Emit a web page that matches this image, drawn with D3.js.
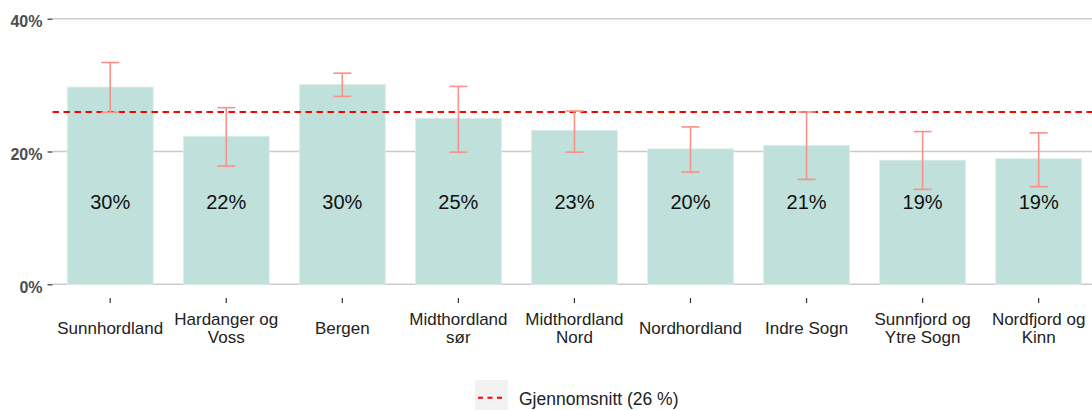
<!DOCTYPE html>
<html>
<head>
<meta charset="utf-8">
<script src="https://cdn.jsdelivr.net/npm/d3@7"></script>
<style>
  html, body { margin: 0; padding: 0; background: #fff; }
  svg { display: block; font-family: "Liberation Sans", Arial, sans-serif; }
</style>
</head>
<body>
<svg id="chart" width="1092" height="410"></svg>
<script>
// ---- data ----
const categories = ["Sunnhordland", "Hardanger og\nVoss", "Bergen", "Midthordland\nsør", "Midthordland\nNord", "Nordhordland", "Indre Sogn", "Sunnfjord og\nYtre Sogn", "Nordfjord og\nKinn"];
const values = [29.7, 22.3, 30.1, 25.0, 23.2, 20.4, 20.9, 18.7, 18.9];
const labels = ["30%", "22%", "30%", "25%", "23%", "20%", "21%", "19%", "19%"];
const errLow = [25.9, 17.8, 28.3, 19.9, 19.9, 16.9, 15.8, 14.3, 14.7];
const errHigh = [33.4, 26.6, 31.8, 29.8, 26.1, 23.7, 25.95, 23.0, 22.8];
const average = 25.95;
const legendLabel = "Gjennomsnitt (26 %)";
const yTicks = [0, 20, 40];

// ---- layout ----
const svg = d3.select("#chart");
const step = 116.06;
const firstCenter = 110.2;
const x = d3.scaleBand()
  .domain(categories)
  .range([firstCenter - step / 2, firstCenter - step / 2 + step * categories.length])
  .paddingInner(0.26).paddingOuter(0.13);
const y = d3.scaleLinear().domain([0, 40]).range([284.3, 18.7]);
const panelLeft = 52.5, panelRight = 1092;

// gridlines
svg.append("g").selectAll("line").data(yTicks).join("line")
  .attr("x1", panelLeft).attr("x2", panelRight)
  .attr("y1", d => y(d)).attr("y2", d => y(d))
  .attr("stroke", "#cbcbcb").attr("stroke-width", 1.5);

// y axis
const yAxis = d3.axisLeft(y).tickValues(yTicks).tickSize(5).tickPadding(5).tickFormat(d => d + "%");
const gy = svg.append("g").attr("transform", `translate(${panelLeft},0)`).call(yAxis);
gy.select(".domain").remove();
gy.selectAll(".tick line").attr("stroke", "#333").attr("stroke-width", 1.2);
gy.selectAll(".tick text")
  .attr("fill", "#4d4d4d").attr("font-size", "16px").attr("font-weight", "bold")
  .attr("font-family", "'Liberation Sans', Arial, sans-serif")
  .attr("dy", "0.5em");

// bars
const data = categories.map((c, i) => ({ c, v: values[i], lab: labels[i], lo: errLow[i], hi: errHigh[i] }));
svg.append("g").selectAll("rect").data(data).join("rect")
  .attr("x", d => x(d.c)).attr("width", x.bandwidth())
  .attr("y", d => y(d.v)).attr("height", d => y(0) - y(d.v))
  .attr("fill", "#bfe0db").attr("stroke", "#dcefec").attr("stroke-width", 0.8);

// value labels
svg.append("g").selectAll("text").data(data).join("text")
  .attr("x", d => x(d.c) + x.bandwidth() / 2)
  .attr("y", y(12.4))
  .attr("text-anchor", "middle").attr("dominant-baseline", "central")
  .attr("font-size", "20px").attr("fill", "#111")
  .text(d => d.lab);

// average line
svg.append("line")
  .attr("x1", panelLeft).attr("x2", panelRight)
  .attr("y1", y(average)).attr("y2", y(average))
  .attr("stroke", "#ff0000").attr("stroke-width", 2)
  .attr("stroke-dasharray", "6.5,4.5");

// error bars
const eg = svg.append("g").attr("stroke", "#f7918a").attr("stroke-width", 1.6).attr("fill", "none");
const cap = 9;
data.forEach(d => {
  const cx = x(d.c) + x.bandwidth() / 2;
  eg.append("line").attr("x1", cx).attr("x2", cx).attr("y1", y(d.lo)).attr("y2", y(d.hi));
  eg.append("line").attr("x1", cx - cap).attr("x2", cx + cap).attr("y1", y(d.lo)).attr("y2", y(d.lo));
  eg.append("line").attr("x1", cx - cap).attr("x2", cx + cap).attr("y1", y(d.hi)).attr("y2", y(d.hi));
});

// x axis ticks and labels
const gx = svg.append("g");
data.forEach(d => {
  const cx = x(d.c) + x.bandwidth() / 2;
  gx.append("line").attr("x1", cx).attr("x2", cx).attr("y1", 298).attr("y2", 303)
    .attr("stroke", "#333").attr("stroke-width", 1.2);
  const lines = d.c.split("\n");
  const lh = 17.5;
  const top = 328.5 - (lines.length - 1) * lh / 2;
  const t = gx.append("text").attr("text-anchor", "middle").attr("font-size", "17px").attr("fill", "#222");
  lines.forEach((ln, j) => {
    t.append("tspan").attr("x", cx).attr("y", top + j * lh).attr("dominant-baseline", "central").text(ln);
  });
});

// legend
const lg = svg.append("g");
lg.append("rect").attr("x", 475).attr("y", 380).attr("width", 33).attr("height", 33).attr("fill", "#f2f2f2");
lg.append("line").attr("x1", 478).attr("x2", 505).attr("y1", 397.7).attr("y2", 397.7)
  .attr("stroke", "#ff0000").attr("stroke-width", 2).attr("stroke-dasharray", "5,4.5");
lg.append("text").attr("x", 519).attr("y", 399).attr("dominant-baseline", "central")
  .attr("font-size", "17.5px").attr("fill", "#222").text(legendLabel);
</script>
</body>
</html>
